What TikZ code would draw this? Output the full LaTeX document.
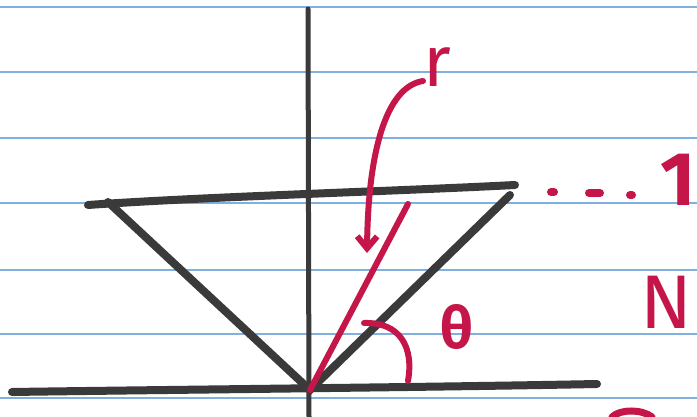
\documentclass[tikz,border=0pt]{standalone}
\usepackage{fontspec}
\setmainfont{Fira Sans}
\usetikzlibrary{arrows.meta}
\definecolor{skblack}{RGB}{58,58,58}
\definecolor{skred}{RGB}{196,22,72}
\definecolor{skblue}{RGB}{128,176,222}

\begin{document}
\begin{tikzpicture}[x=1pt,y=1pt,>=Stealth,
    marker/.style={skblack,line width=8pt,line cap=round},
    ink/.style={skred,line width=6pt,line cap=round},
    rule/.style={skblue,line width=2pt},
    lbl/.style={skred,inner sep=0pt}]
    \useasboundingbox (0,0) rectangle (697,417);
    \fill[white] (0,0) rectangle (697,417);
    % ruled paper
    \foreach \y in {410,345,279,214,147,83,19} \draw[rule] (0,\y)--(697,\y);
    % points of the sketch
    \coordinate (O) at (310,27);
    \coordinate (axtop) at (308,408); \coordinate (axbot) at (309,0);
    \coordinate (gl) at (12,25); \coordinate (gr) at (597,33);
    \coordinate (tl) at (88,212); \coordinate (tr) at (515,232);
    \coordinate (dl) at (108,215); \coordinate (dr) at (510,222);
    \coordinate (rtop) at (408,213);
    \coordinate (astart) at (423,336); \coordinate (aend) at (367,164);
    \coordinate (tha) at (364,94); \coordinate (thb) at (408,36);
    % black frame
    \draw[marker,line width=5pt] (axtop)--(axbot);
    \draw[marker] (gl) .. controls (150,27) and (450,30) .. (gr);
    \draw[marker] (tl) .. controls (200,220) and (400,226) .. (tr);
    \draw[marker] (dl)--(O)--(dr);
    % red line, angle and arrow
    \draw[ink] (O)--(rtop);
    \draw[ink] (tha) .. controls (400,95) and (414,70) .. (thb);
    \draw[ink,-{Straight Barb[length=12pt,width=20pt]}] (astart) .. controls (385,330) and (368,262) .. (aend);
    % dots towards 1
    \draw[ink,line width=8pt] (551,225)--(554,225);
    \draw[ink,line width=8pt] (589,224)--(600,224);
    \draw[ink,line width=8pt] (630,222)--(632,222);
    % labels
    \node[lbl,font=\fontsize{72}{72}\selectfont] (r) at (437,350) {r};
    \node[lbl,font=\fontsize{58}{58}\selectfont\bfseries] (theta) at (457,90) {θ};
    \node[lbl,font=\fontsize{76}{76}\selectfont\bfseries] (one) at (678,237) {1};
    \node[lbl,font=\fontsize{76}{76}\selectfont] (N) at (666,115) {N};
    % cut-off mark at the bottom
    \draw[ink,line width=7pt] (612,0) .. controls (620,8) and (642,8) .. (652,0);
\end{tikzpicture}
\end{document}
